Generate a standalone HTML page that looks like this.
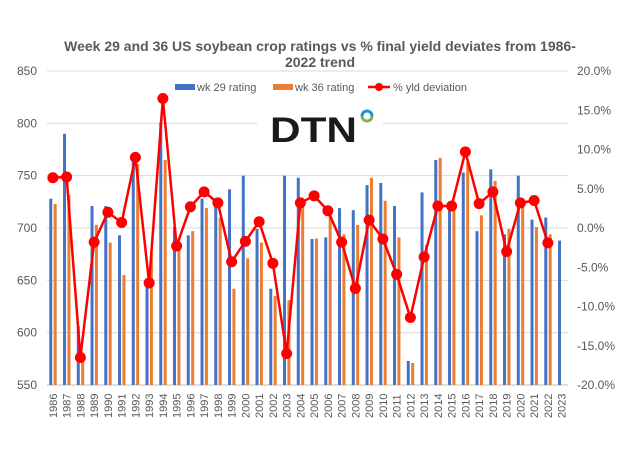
<!DOCTYPE html>
<html><head><meta charset="utf-8"><style>body{margin:0;background:#fff}svg{display:block}</style></head>
<body>
<svg id="c" width="640" height="460" xmlns="http://www.w3.org/2000/svg" font-family="Liberation Sans, sans-serif">
<rect width="640" height="460" fill="#fff"/>
<text x="320" y="51" text-anchor="middle" font-size="14" font-weight="bold" fill="#595959">Week 29 and 36 US soybean crop ratings vs % final yield deviates from 1986-</text>
<text x="320" y="67" text-anchor="middle" font-size="14" font-weight="bold" fill="#595959">2022 trend</text>
<g id="grid"></g>
<g id="bars"></g>
<rect x="257" y="100" width="126" height="58" fill="#fff"/>
<text x="270" y="142" font-size="35" font-weight="bold" fill="#1a1a1a" textLength="87" lengthAdjust="spacingAndGlyphs">DTN</text>
<path d="M362,116 a5,5 0 0 1 10,0" fill="none" stroke="#1e90d6" stroke-width="3"/>
<path d="M372,116 a5,5 0 0 1 -10,0" fill="none" stroke="#7ab648" stroke-width="3"/>
<g id="line"></g>
<g id="labels" font-size="11" fill="#595959"></g>
<rect x="175" y="84" width="20" height="6" fill="#4472c4"/>
<text x="197" y="91" font-size="11" fill="#595959">wk 29 rating</text>
<rect x="273" y="84" width="20" height="6" fill="#ed7d31"/>
<text x="295" y="91" font-size="11" fill="#595959">wk 36 rating</text>
<line x1="368" y1="87" x2="390" y2="87" stroke="#f00" stroke-width="2.5"/>
<circle cx="379" cy="87" r="4" fill="#f00"/>
<text x="393" y="91" font-size="11" fill="#595959">% yld deviation</text>
</svg>
<script>
const b=[728,790,606,721,721,693,765,644,801,701,693,728,720,737,750,699,642,750,748,689.5,691,719,717,741,743,721,573,734,765,720,753,697,756,694,750,708,710,688];
const o=[723,731.5,578,703,686,655,761,675,765,680,697,719,710,642,671,686,635,631,720,690,714,694,703,748,726,691,571,684,767,717,763,712,745,699,724,701,694,null];
const p=[6.4,6.5,-16.5,-1.8,2.0,0.7,9.0,-7.0,16.5,-2.3,2.7,4.6,3.2,-4.3,-1.7,0.8,-4.5,-16.0,3.2,4.1,2.2,-1.8,-7.7,1.0,-1.4,-5.9,-11.4,-3.7,2.8,2.8,9.7,3.1,4.6,-3.0,3.2,3.5,-1.9];
const NS="http://www.w3.org/2000/svg";
function el(g,t,a,txt){const e=document.createElementNS(NS,t);for(const k in a)e.setAttribute(k,a[k]);if(txt!==undefined)e.textContent=txt;document.getElementById(g).appendChild(e);return e;}
const Y=v=>71+(850-v)*314/300, P=v=>71+(20-v)*314/40, X=i=>46+13.75*(i+0.5);
for(let k=0;k<7;k++){const y=71+k*314/6;
el('grid','line',{x1:47,x2:568,y1:y,y2:y,stroke:k==6?'#bfbfbf':'#d9d9d9','stroke-width':1});
el('labels','text',{x:37,y:y+4,'text-anchor':'end','font-size':12},String(850-50*k));}
for(let k=0;k<9;k++){const y=71+k*314/8;
el('labels','text',{x:577,y:y+4,'font-size':12},(20-5*k).toFixed(1)+'%');}
for(let i=0;i<38;i++){const c=X(i);
el('bars','rect',{x:c-3.6,y:Y(b[i]),width:3,height:385-Y(b[i]),fill:'#4472c4'});
if(o[i]!==null)el('bars','rect',{x:c+0.8,y:Y(o[i]),width:3,height:385-Y(o[i]),fill:'#ed7d31'});
el('labels','text',{transform:`translate(${c+4},418) rotate(-90)`,'font-size':11},String(1986+i));}
el('line','polyline',{points:p.map((v,i)=>X(i)+','+P(v)).join(' '),fill:'none',stroke:'#f00','stroke-width':2.5});
p.forEach((v,i)=>el('line','circle',{cx:X(i),cy:P(v),r:5.5,fill:'#f00'}));
</script>
</body></html>
